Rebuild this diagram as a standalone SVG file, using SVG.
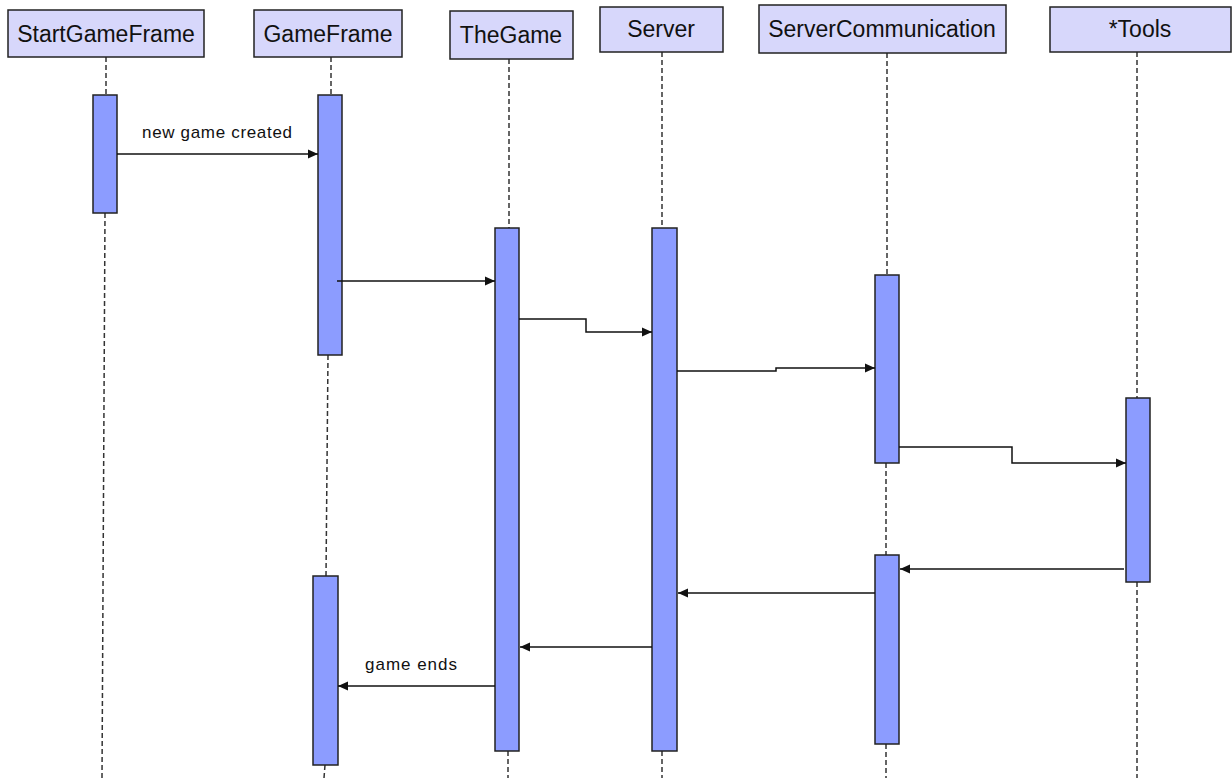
<svg xmlns="http://www.w3.org/2000/svg" width="1232" height="778" viewBox="0 0 1232 778">
  <style>
    .head rect.box { fill: #d7d7fb; stroke: #222; stroke-width: 1.5; }
    .head text { font-family: "Liberation Sans", Arial, sans-serif; font-size: 23px; fill: #111; text-anchor: middle; }
    .life { stroke: #333; stroke-width: 1.5; stroke-dasharray: 5 3; fill: none; }
    .head rect.act { fill: #8c9cff; stroke: #222; stroke-width: 1.5; }
    .msg { stroke: #111; stroke-width: 1.5; fill: none; marker-end: url(#arrow); }
    .lbl { font-family: "Liberation Sans", Arial, sans-serif; font-size: 17px; fill: #111; }
  </style>
  <defs>
    <marker id="arrow" viewBox="0 0 10 10" refX="10" refY="5" markerWidth="10" markerHeight="10" markerUnits="userSpaceOnUse" orient="auto">
      <path d="M0,0.5 L10,5 L0,9.5 z" fill="#111"/>
    </marker>
  </defs>
  <rect width="1232" height="778" fill="#fff"/>

  <!-- lifelines -->
  <g id="lifelines">
    <line class="life" x1="106" y1="57" x2="106" y2="95"/>
    <line class="life" x1="105" y1="213" x2="102" y2="778"/>
    <line class="life" x1="331" y1="57" x2="331" y2="95"/>
    <line class="life" x1="328" y1="355" x2="326" y2="576"/>
    <line class="life" x1="325" y1="765" x2="324" y2="778"/>
    <line class="life" x1="509" y1="59" x2="509" y2="228"/>
    <line class="life" x1="508" y1="751" x2="508" y2="778"/>
    <line class="life" x1="662" y1="52" x2="662" y2="228"/>
    <line class="life" x1="662" y1="751" x2="662" y2="778"/>
    <line class="life" x1="887" y1="53" x2="887" y2="275"/>
    <line class="life" x1="886" y1="463" x2="886" y2="555"/>
    <line class="life" x1="886" y1="744" x2="886" y2="778"/>
    <line class="life" x1="1137" y1="52" x2="1137" y2="398"/>
    <line class="life" x1="1137" y1="582" x2="1137" y2="778"/>
  </g>

  <!-- participants with their activation bars -->
  <g id="StartGameFrame" class="head">
    <rect class="box" x="8" y="10" width="196" height="47"/>
    <text x="106" y="42">StartGameFrame</text>
    <rect class="act" x="93" y="95" width="24" height="118"/>
  </g>
  <g id="GameFrame" class="head">
    <rect class="box" x="254" y="10" width="148" height="47"/>
    <text x="328" y="42">GameFrame</text>
    <rect class="act" x="318" y="95" width="24" height="260"/>
    <rect class="act" x="313" y="576" width="25" height="189"/>
  </g>
  <g id="TheGame" class="head">
    <rect class="box" x="450" y="11" width="123" height="48"/>
    <text x="511" y="43">TheGame</text>
    <rect class="act" x="495" y="228" width="24" height="523"/>
  </g>
  <g id="Server" class="head">
    <rect class="box" x="600" y="7" width="123" height="45"/>
    <text x="661" y="37">Server</text>
    <rect class="act" x="652" y="228" width="25" height="523"/>
  </g>
  <g id="ServerCommunication" class="head">
    <rect class="box" x="759" y="5" width="247" height="48"/>
    <text x="882" y="37">ServerCommunication</text>
    <rect class="act" x="875" y="275" width="24" height="188"/>
    <rect class="act" x="875" y="555" width="24" height="189"/>
  </g>
  <g id="Tools" class="head">
    <rect class="box" x="1050" y="7" width="181" height="45"/>
    <text x="1140" y="37">*Tools</text>
    <rect class="act" x="1126" y="398" width="24" height="184"/>
  </g>

  <!-- messages -->
  <g id="connectors">
    <path class="msg" d="M117,154 H318"/>
    <text class="lbl" x="142" y="138" textLength="150" lengthAdjust="spacing">new game created</text>
    <path class="msg" d="M337,281 H495"/>
    <path class="msg" d="M519,319 H586 V332 H652"/>
    <path class="msg" d="M677,371 H776 V368 H875"/>
    <path class="msg" d="M899,447 H1012 V463 H1126"/>
    <path class="msg" d="M1124,569 H900"/>
    <path class="msg" d="M875,593 H678"/>
    <path class="msg" d="M652,647 H520"/>
    <path class="msg" d="M495,686 H338"/>
    <text class="lbl" x="365" y="670" textLength="92" lengthAdjust="spacing">game ends</text>
  </g>
</svg>
